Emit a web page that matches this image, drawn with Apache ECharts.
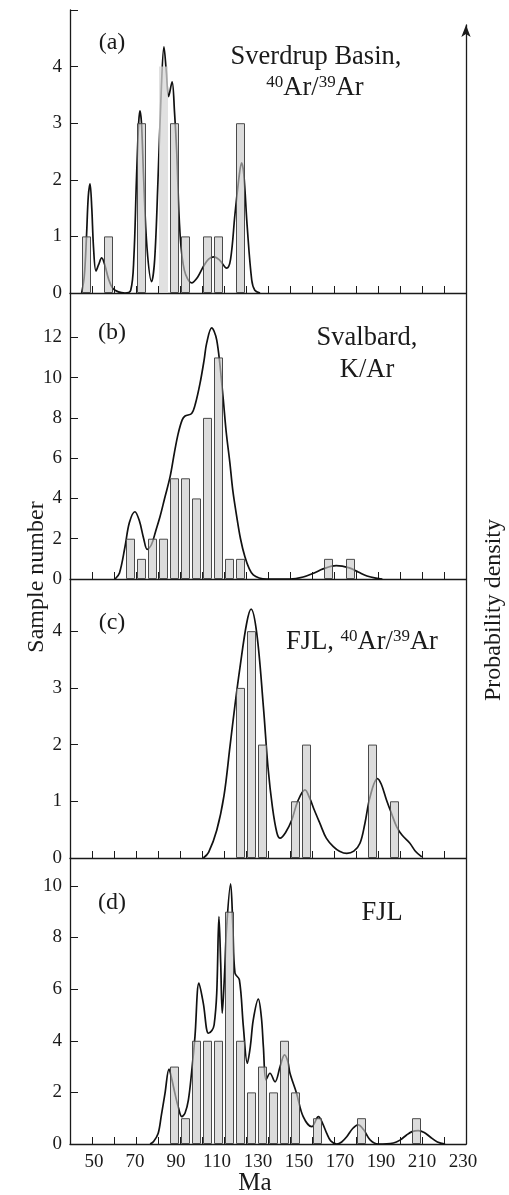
<!DOCTYPE html>
<html>
<head>
<meta charset="utf-8">
<script src="https://cdn.jsdelivr.net/npm/echarts@6/dist/echarts.min.js"></script>
<style>
html, body {margin: 0; padding: 0; background: #fff;}
#main {width: 509px; height: 1195px;}
</style>
</head>
<body>
<div id="main"></div>
<script>
// (a) Sverdrup Basin, 40Ar/39Ar
var binsA = [47.5, 57.5, 72.5, 82.5, 87.5, 92.5, 102.5, 107.5, 117.5];
var countsA = [1, 1, 3, 4, 3, 1, 1, 1, 3];
var curveA = [[45.3, 0], [46.5, 0.3], [47.5, 1.0], [48.3, 1.7], [49.1, 1.93], [49.9, 1.5], [50.7, 0.8],
	[51.8, 0.39], [53, 0.5], [54.4, 0.62], [55.8, 0.5], [57.5, 0.25], [59.5, 0.08], [62, 0.02], [65, 0],
	[67.6, 0.05], [69, 0.6], [70.2, 2.0], [71.2, 3.0], [71.8, 3.22], [72.5, 3.0], [73.5, 2.0], [75, 0.8],
	[77.1, 0.2], [78.5, 0.6], [80, 2.0], [81.5, 3.6], [82.7, 4.35], [83.8, 3.9], [84.8, 3.47], [86.4, 3.73],
	[87.5, 3.2], [88.5, 2.5], [90, 1.06], [92, 0.4], [95.3, 0.18], [98, 0.28], [100.5, 0.46], [103, 0.6],
	[105.5, 0.64], [108, 0.58], [111.2, 0.44], [113, 0.6], [115, 1.4], [117, 2.1], [118, 2.3], [119, 2.1],
	[120.5, 1.2], [122.6, 0.23], [124, 0.05], [126.4, 0]];

// (b) Svalbard, K/Ar
var binsB = [67.5, 72.5, 77.5, 82.5, 87.5, 92.5, 97.5, 102.5, 107.5, 112.5, 117.5, 157.5, 167.5];
var countsB = [2, 1, 2, 2, 5, 5, 4, 8, 11, 1, 1, 1, 1];
var curveB = [[60.5, 0], [62.5, 0.3], [65, 1.6], [67, 2.8], [69.5, 3.34], [71.5, 2.9], [73.5, 2.0], [75.1, 1.47],
	[77, 1.7], [79, 2.4], [80.9, 3.09], [83, 4.0], [85.5, 5.08], [87.5, 6.3], [89.2, 7.23], [91, 7.9],
	[92.3, 8.09], [95.3, 8.22], [97, 8.7], [99.1, 9.71], [101, 10.9], [102.1, 11.7], [104.4, 12.47],
	[105.5, 12.3], [106.7, 11.86], [108, 10.8], [109.7, 8.88], [111, 7.3], [112.7, 5.74], [114, 4.4],
	[115.8, 3.09], [117.5, 2.0], [119.5, 1.1], [121.5, 0.5], [123.3, 0.2], [126, 0.05], [129.4, 0], [140, 0],
	[146, 0.1], [151, 0.3], [155, 0.5], [161, 0.66], [167, 0.55], [171, 0.35], [175, 0.15], [179, 0.04], [182, 0]];

// (c) FJL, 40Ar/39Ar
var binsC = [117.5, 122.5, 127.5, 142.5, 147.5, 177.5, 187.5];
var countsC = [3, 4, 2, 1, 2, 2, 1];
var curveC = [[100.6, 0], [103, 0.1], [106.7, 0.49], [110, 1.1], [112.7, 1.96], [115, 2.7], [117.3, 3.37],
	[120.3, 4.14], [122.3, 4.39], [124.9, 3.96], [127.9, 2.67], [130, 1.6], [132, 0.9], [134, 0.45],
	[135.5, 0.35], [138, 0.45], [140.8, 0.67], [143.5, 1.0], [146.8, 1.2], [149, 1.05], [151, 0.85],
	[153.6, 0.61], [156.5, 0.35], [159.7, 0.2], [162.5, 0.12], [165.8, 0.08], [169, 0.12], [171.8, 0.26],
	[174, 0.6], [176.4, 1.08], [179.7, 1.4], [181.5, 1.3], [183.9, 1.02], [186, 0.8], [188.5, 0.55],
	[191, 0.4], [194.5, 0.26], [197, 0.12], [199.9, 0.02]];

// (d) FJL
var binsD = [87.5, 92.5, 97.5, 102.5, 107.5, 112.5, 117.5, 122.5, 127.5, 132.5, 137.5, 142.5, 152.5, 172.5, 197.5];
var countsD = [3, 1, 4, 4, 4, 9, 4, 2, 3, 2, 4, 2, 1, 1, 1];
var curveD = [[76.4, 0], [78, 0.1], [80.1, 0.42], [81.5, 1.1], [83.2, 1.97], [85, 2.9], [86.3, 2.5],
	[87.7, 1.96], [89.3, 1.4], [90.8, 1.06], [92.3, 1.2], [93.8, 1.7], [95.3, 2.8], [96.8, 4.16], [98.6, 6.23],
	[100.6, 5.45], [102.9, 4.29], [104.5, 4.4], [105.5, 4.61], [106.7, 5.85], [107.7, 8.81], [108.5, 7.0],
	[109.2, 5.07], [110.2, 6.5], [111.2, 8.42], [113, 10.08], [114, 8.5], [115, 6.62], [117, 6.36],
	[118.8, 4.55], [120.6, 3.13], [122, 3.8], [123.3, 4.81], [125.6, 5.61], [127, 4.9], [127.9, 3.77],
	[129.1, 2.48], [130.9, 2.74], [133.2, 2.41], [135.5, 3.0], [137.5, 3.45], [139, 3.2], [140, 2.74],
	[143, 1.96], [146, 1.06], [149.9, 0.67], [152.9, 1.06], [154.8, 0.8], [156.7, 0.41], [158.5, 0.12],
	[161.2, 0], [163.5, 0.08], [165.8, 0.28], [168.5, 0.6], [171, 0.74], [173.5, 0.55], [176.4, 0.16],
	[180.1, 0], [187, 0.04], [190, 0.15], [193, 0.35], [195.5, 0.48], [198.3, 0.52], [201, 0.45],
	[203.6, 0.28], [207, 0.08], [210.5, 0]];

// axis ticks / labels
var xTicks = [50, 60, 70, 80, 90, 100, 110, 120, 130, 140, 150, 160, 170, 180, 190, 200, 210];
var xLabels = [50, 70, 90, 110, 130, 150, 170, 190, 210, 230];
var yTicksA = [0, 1, 2, 3, 4, 5], yLabelsA = [0, 1, 2, 3, 4];
var yTicksB = [0, 2, 4, 6, 8, 10, 12];
var yTicksC = [0, 1, 2, 3, 4];
var yTicksD = [0, 2, 4, 6, 8, 10];

var myChart = echarts.init(document.getElementById('main'));

var FONT = 'Liberation Serif, Times New Roman, serif';
var INK = '#1a1a1a';

var panels = [
	{top: 10, height: 283, max: 5, ticks: yTicksA, labels: yLabelsA, bins: binsA, counts: countsA, curve: curveA},
	{top: 293, height: 286, max: 14.2, ticks: yTicksB, labels: yTicksB, bins: binsB, counts: countsB, curve: curveB},
	{top: 579, height: 279, max: 4.92, ticks: yTicksC, labels: yTicksC, bins: binsC, counts: countsC, curve: curveC},
	{top: 858, height: 286, max: 11.08, ticks: yTicksD, labels: yTicksD, bins: binsD, counts: countsD, curve: curveD}
];

var grid = [], xAxis = [], yAxis = [], series = [];

panels.forEach(function (p, i) {
	grid.push({left: 70, right: 43, top: p.top, height: p.height, containLabel: false, outerBoundsMode: 'none'});
	xAxis.push({
		gridIndex: i, type: 'value', min: 40, max: 220, position: 'bottom',
		axisLine: {show: true, lineStyle: {color: INK, width: 1.3}},
		axisTick: {show: true, inside: true, length: 7, customValues: xTicks, lineStyle: {color: INK, width: 1}},
		axisLabel: {show: false},
		splitLine: {show: false}
	});
	yAxis.push({
		gridIndex: i, type: 'value', min: 0, max: p.max,
		axisLine: {show: true, lineStyle: {color: INK, width: 1.3}},
		axisTick: {show: true, inside: true, length: 8, customValues: p.ticks, lineStyle: {color: INK, width: 1}},
		axisLabel: {customValues: p.labels, fontSize: 19, fontFamily: FONT, color: INK, margin: 8},
		splitLine: {show: false}
	});
	series.push({
		type: 'line', xAxisIndex: i, yAxisIndex: i, z: 2,
		smooth: 0.35, symbol: 'none',
		lineStyle: {color: '#111', width: 1.7},
		data: p.curve
	});
	series.push({
		type: 'bar', xAxisIndex: i, yAxisIndex: i, z: 3,
		barWidth: 9,
		itemStyle: {color: 'rgba(200,200,200,0.64)', borderColor: '#4a4a4a', borderWidth: 1},
		data: p.bins.map(function (b, k) {
			// the 80-85 Ma bar of panel (a) is drawn without outline
			if (i === 0 && b === 82.5) {
				return {value: [b, p.counts[k]], itemStyle: {borderWidth: 0, color: 'rgba(215,215,215,0.75)'}};
			}
			return [b, p.counts[k]];
		})
	});
});

// tick labels of the age axis (placed as in the original figure)
xAxis.push({
	gridIndex: 3, type: 'value', min: 38.3, max: 231.46, position: 'bottom',
	axisLine: {show: false}, axisTick: {show: false}, splitLine: {show: false},
	axisLabel: {customValues: xLabels, fontSize: 19, fontFamily: FONT, color: INK, margin: 9}
});

// right probability density axis with arrow
grid.push({left: 466, width: 1, top: 25, bottom: 51, containLabel: false, outerBoundsMode: 'none'});
xAxis.push({gridIndex: 4, type: 'value', show: false, min: 0, max: 1});
yAxis.push({
	gridIndex: 4, type: 'value', position: 'left', min: 0, max: 1,
	axisLine: {show: true, symbol: ['none', 'arrow'], symbolSize: [7, 12], lineStyle: {color: INK, width: 1.3}},
	axisTick: {show: false}, axisLabel: {show: false}, splitLine: {show: false}
});

var supRich = {s: {fontSize: 17, fontFamily: FONT, fill: INK, verticalAlign: 'top'}};

function label(text, x, y, size) {
	return {
		type: 'text', x: x, y: y,
		style: {text: text, fontSize: size || 26.5, fontFamily: FONT, fill: INK, align: 'center', verticalAlign: 'middle', rich: supRich}
	};
}

var option = {
	animation: false,
	grid: grid,
	xAxis: xAxis,
	yAxis: yAxis,
	series: series,
	graphic: [
		label('(a)', 112, 43, 24),
		label('(b)', 112, 333, 24),
		label('(c)', 112, 623, 24),
		label('(d)', 112, 903, 24),
		label('Sverdrup Basin,', 316, 57),
		label('{s|40}Ar/{s|39}Ar', 315, 88),
		label('Svalbard,', 367, 338),
		label('K/Ar', 367, 370),
		label('FJL, {s|40}Ar/{s|39}Ar', 362, 642),
		label('FJL', 382, 913),
		label('Ma', 255, 1183, 25),
		{
			type: 'text', x: 37, y: 577, rotation: Math.PI / 2,
			style: {text: 'Sample number', fontSize: 24, fontFamily: FONT, fill: INK, align: 'center', verticalAlign: 'middle'}
		},
		{
			type: 'text', x: 494, y: 610, rotation: Math.PI / 2,
			style: {text: 'Probability density', fontSize: 24, fontFamily: FONT, fill: INK, align: 'center', verticalAlign: 'middle'}
		}
	]
};

myChart.setOption(option);
</script>
</body>
</html>
